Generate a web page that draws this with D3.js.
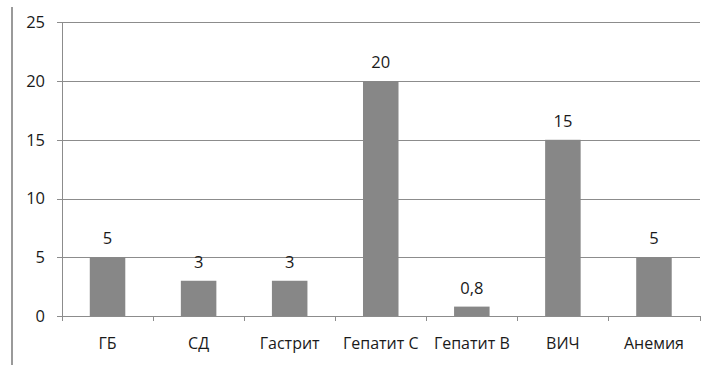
<!DOCTYPE html>
<html>
<head>
<meta charset="utf-8">
<script src="https://cdn.jsdelivr.net/npm/d3@7"></script>
<style>
  html, body { margin: 0; padding: 0; background: #fff; }
  svg { display: block; }
  text { font-family: "Open Sans", "DejaVu Sans", sans-serif; fill: #1a1a1a; }
</style>
</head>
<body>
<div id="chart"></div>
<script>
// Disease categories and their values (%)
const categories = ["ГБ", "СД", "Гастрит", "Гепатит С", "Гепатит В", "ВИЧ", "Анемия"];
const values = [5, 3, 3, 20, 0.8, 15, 5];
const valueLabels = ["5", "3", "3", "20", "0,8", "15", "5"];
const yTicks = [0, 5, 10, 15, 20, 25];

const width = 710, height = 365;
const margin = { left: 62, right: 10, top: 22, bottom: 49 };

const svg = d3.select("#chart").append("svg")
  .attr("width", width).attr("height", height);

// Left frame line
svg.append("line")
  .attr("x1", 12).attr("x2", 12).attr("y1", 7).attr("y2", height)
  .attr("stroke", "#9a9a9a").attr("stroke-width", 2);

const x = d3.scaleBand()
  .domain(categories)
  .range([margin.left, 699.5])
  .paddingInner(0.61)
  .paddingOuter(0.305);

const y = d3.scaleLinear()
  .domain([0, 25])
  .range([316, 22.3]);

// Horizontal gridlines
svg.append("g")
  .selectAll("line")
  .data(yTicks)
  .join("line")
  .attr("x1", margin.left - 5).attr("x2", 700)
  .attr("y1", d => Math.round(y(d)) + 0.5).attr("y2", d => Math.round(y(d)) + 0.5)
  .attr("stroke", "#8c8c8c").attr("stroke-width", 1);

// Y axis labels
svg.append("g")
  .selectAll("text")
  .data(yTicks)
  .join("text")
  .attr("x", 45)
  .attr("y", d => y(d))
  .attr("dy", "0.36em")
  .attr("text-anchor", "end")
  .attr("font-size", 16.5)
  .text(d => d);

// Y axis line
svg.append("line")
  .attr("x1", margin.left + 0.5).attr("x2", margin.left + 0.5)
  .attr("y1", y(25)).attr("y2", y(0))
  .attr("stroke", "#8c8c8c");

// X axis tick marks at band boundaries
const step = x.step();
const bounds = d3.range(categories.length + 1).map(i => x.range()[0] + i * step);
svg.append("g")
  .selectAll("line")
  .data(bounds)
  .join("line")
  .attr("x1", d => Math.round(d) + 0.5).attr("x2", d => Math.round(d) + 0.5)
  .attr("y1", y(0)).attr("y2", y(0) + 5)
  .attr("stroke", "#8c8c8c");

// Bars
svg.append("g")
  .selectAll("rect")
  .data(values)
  .join("rect")
  .attr("x", (d, i) => x(categories[i]))
  .attr("y", d => y(d))
  .attr("width", x.bandwidth())
  .attr("height", d => y(0) - y(d))
  .attr("fill", "#878787");

// Value labels
svg.append("g")
  .selectAll("text")
  .data(values)
  .join("text")
  .attr("x", (d, i) => x(categories[i]) + x.bandwidth() / 2)
  .attr("y", d => y(d) - 13)
  .attr("text-anchor", "middle")
  .attr("font-size", 16.5)
  .text((d, i) => valueLabels[i]);

// Category labels
svg.append("g")
  .selectAll("text")
  .data(categories)
  .join("text")
  .attr("x", d => x(d) + x.bandwidth() / 2)
  .attr("y", 343)
  .attr("dy", "0.36em")
  .attr("text-anchor", "middle")
  .attr("font-size", 16)
  .text(d => d);
</script>
</body>
</html>
